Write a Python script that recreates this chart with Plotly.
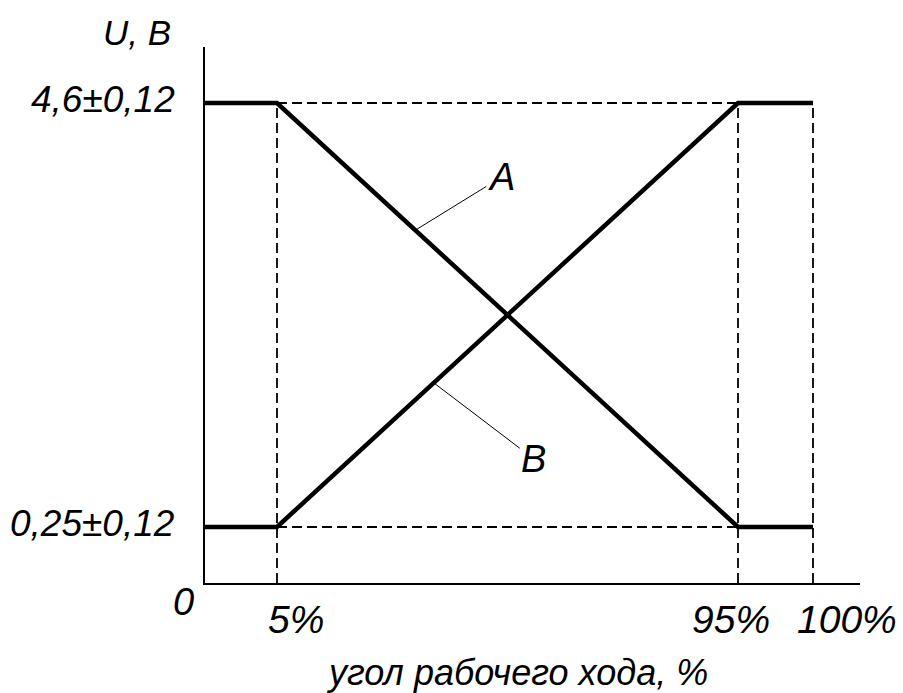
import plotly.graph_objects as go

# schematic drawing units (diagram is not to scale)
x_pos = [0, 72, 533, 608]          # positions of 0, 5%, 95%, 100% along travel
x_tick_text = ["5%", "95%", "100%"]
y_levels = [56, 480]               # low / high output level
y_tick_text = ["0,25±0,12", "4,6±0,12"]
line_a = [480, 480, 56, 56]        # characteristic A
line_b = [56, 56, 480, 480]        # characteristic B
x_max, y_max = 655, 536

FONT = "Liberation Sans, Arial, sans-serif"

fig = go.Figure()

dash = dict(color="black", width=1.8, dash="10px,5px")
# dashed guide lines
for xv in x_pos[1:]:
    fig.add_trace(go.Scatter(x=[xv, xv], y=[0, y_levels[1]], mode="lines",
                             line=dash, hoverinfo="skip", showlegend=False))
for yv in y_levels:
    fig.add_trace(go.Scatter(x=[x_pos[1], x_pos[2]], y=[yv, yv], mode="lines",
                             line=dash, hoverinfo="skip", showlegend=False))

fig.add_trace(go.Scatter(x=x_pos, y=line_a, mode="lines", name="A",
                         line=dict(color="black", width=4.5), showlegend=False))
fig.add_trace(go.Scatter(x=x_pos, y=line_b, mode="lines", name="B",
                         line=dict(color="black", width=4.5), showlegend=False))

def lab(text, x, y, size, xanchor="center", xshift=0, yshift=0):
    fig.add_annotation(x=x, y=y, xref="x", yref="y", text="<i>" + text + "</i>",
                       showarrow=False, xanchor=xanchor, yanchor="middle",
                       xshift=xshift, yshift=yshift,
                       font=dict(family=FONT, size=size, color="black"))

# y tick labels
for yv, t in zip(y_levels, y_tick_text):
    lab(t, 0, yv, 37, xanchor="right", xshift=-28, yshift=4)
# x tick labels
for xv, t, sh in zip(x_pos[1:], x_tick_text, [19, -7, 34]):
    lab(t, xv, 0, 39, xshift=sh, yshift=-36)
lab("0", 0, 0, 38, xshift=-22, yshift=-19)
lab("U, B", 0, y_max, 35, xshift=-68, yshift=15)
lab("угол рабочего хода, %", 312, 0, 36, yshift=-89)

# curve labels with leader lines
ta = 0.30
xa = x_pos[1] + ta * (x_pos[2] - x_pos[1])
ya = line_a[1] + ta * (line_a[2] - line_a[1])
tb = 0.34
xb = x_pos[1] + tb * (x_pos[2] - x_pos[1])
yb = line_b[1] + tb * (line_b[2] - line_b[1])
for x0, y0, t, ax, ay in [(xa, ya, "A", 86, -53), (xb, yb, "B", 100, 76)]:
    fig.add_annotation(x=x0, y=y0, xref="x", yref="y", text="<i>" + t + "</i>",
                       showarrow=True, arrowhead=0, arrowwidth=1, arrowcolor="black",
                       ax=ax, ay=ay, font=dict(family=FONT, size=38, color="black"))

axis_common = dict(showgrid=False, zeroline=False, showticklabels=False,
                   ticks="", showline=True, linecolor="black", linewidth=2, mirror=False)
fig.update_layout(
    width=903, height=693,
    margin=dict(l=205, r=43, t=47, b=110),
    plot_bgcolor="white", paper_bgcolor="white",
    xaxis=dict(range=[0, x_max], **axis_common),
    yaxis=dict(range=[0, y_max], **axis_common),
)
fig.write_html("out.html", config={"displayModeBar": False})

# remove the default page margin so the figure fills the window exactly
with open("out.html", encoding="utf-8") as f:
    html = f.read()
html = html.replace("<head>", "<head><style>html,body{margin:0;padding:0;overflow:hidden}</style>", 1)
with open("out.html", "w", encoding="utf-8") as f:
    f.write(html)
